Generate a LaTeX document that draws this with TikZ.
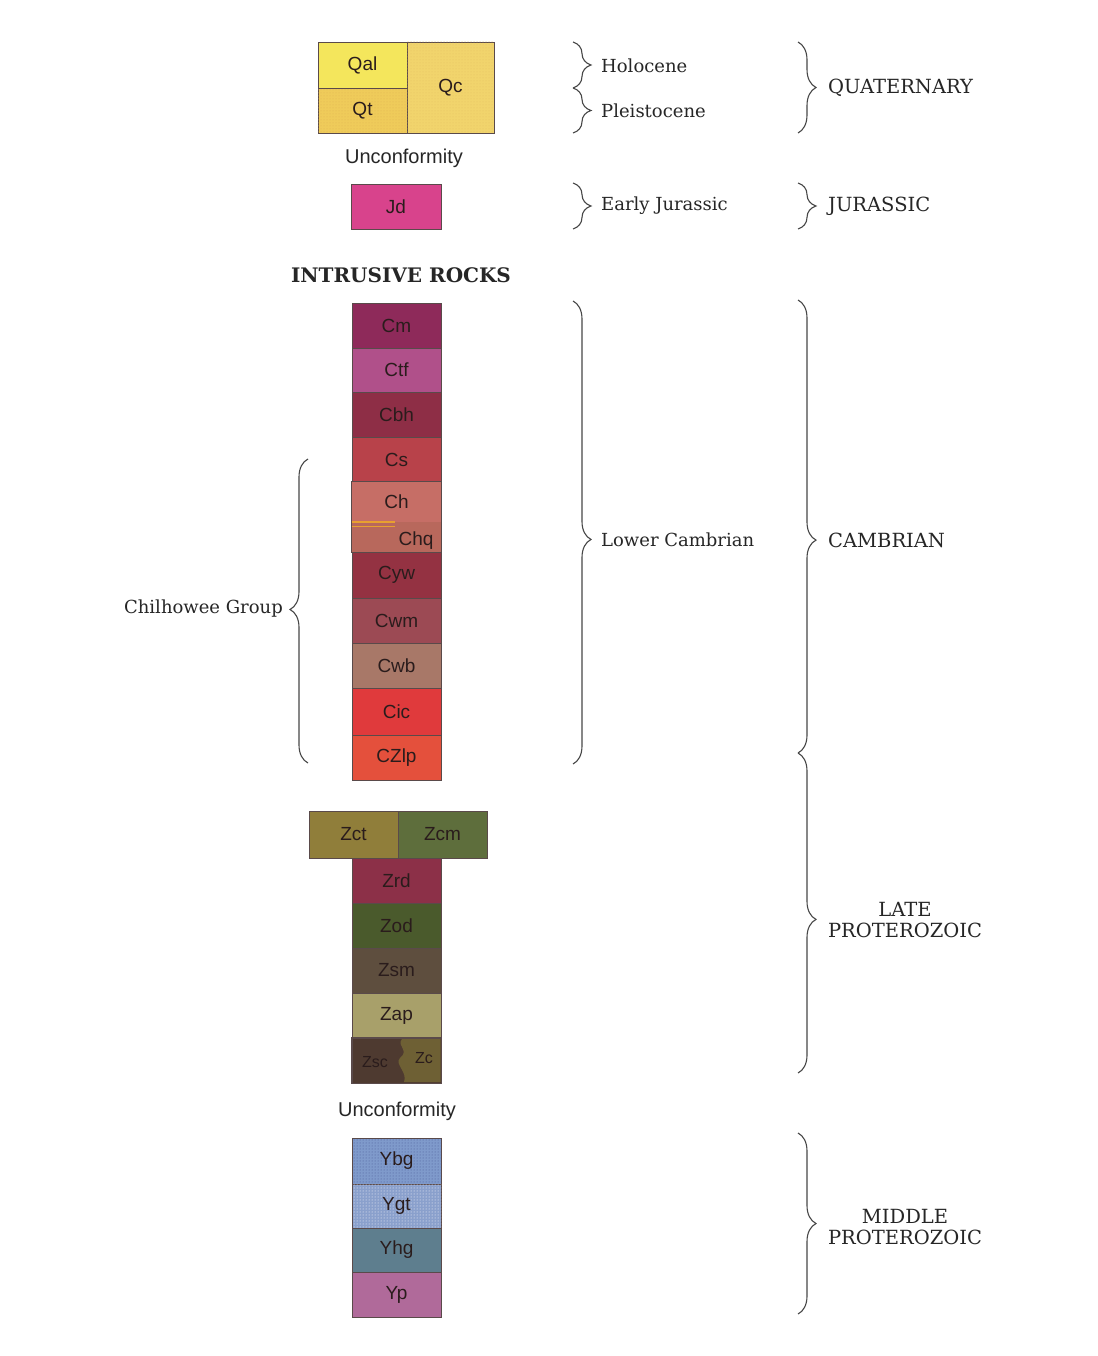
\documentclass[tikz,border=0pt]{standalone}
\usepackage{fontspec}
\setmainfont{DejaVu Serif}
\newfontfamily\sansf{Liberation Sans}
\usetikzlibrary{decorations.pathreplacing,patterns}
\definecolor{txt}{HTML}{262626}
\definecolor{ulab}{HTML}{2A1C1C}
\definecolor{bord}{HTML}{5A4A4A}
\definecolor{cQal}{HTML}{F4E65C}
\definecolor{cQt}{HTML}{EFCB5A}
\definecolor{cQc}{HTML}{F1D46C}
\definecolor{cJd}{HTML}{D8438C}
\definecolor{cCm}{HTML}{8E2A5A}
\definecolor{cCtf}{HTML}{B0508A}
\definecolor{cCbh}{HTML}{8E2E46}
\definecolor{cCs}{HTML}{B8424A}
\definecolor{cCh}{HTML}{C66E66}
\definecolor{cChq}{HTML}{B8685C}
\definecolor{cCyw}{HTML}{943242}
\definecolor{cCwm}{HTML}{9C4A54}
\definecolor{cCwb}{HTML}{A87868}
\definecolor{cCic}{HTML}{E03A3C}
\definecolor{cCZlp}{HTML}{E4503C}
\definecolor{cZct}{HTML}{907E3A}
\definecolor{cZcm}{HTML}{5E6E3C}
\definecolor{cZrd}{HTML}{8C3048}
\definecolor{cZod}{HTML}{4A5A2C}
\definecolor{cZsm}{HTML}{5E4E3E}
\definecolor{cZap}{HTML}{A8A06A}
\definecolor{cZsc}{HTML}{4E3A30}
\definecolor{cZc}{HTML}{6E6034}
\definecolor{cYbg}{HTML}{7F9ACB}
\definecolor{cYgt}{HTML}{8AA0CC}
\definecolor{cYhg}{HTML}{5E7E8E}
\definecolor{cYp}{HTML}{B06A9A}
\definecolor{cOr}{HTML}{E8A030}
\tikzset{
  unit/.style={draw=bord, line width=0.7pt, inner sep=0pt, minimum width=89pt,
    font=\fontsize{19}{22}\sansf, text=ulab},
  brc/.style={decorate, decoration={brace, amplitude=18pt, #1}, draw=txt!85, line width=1.1pt},
  brc/.default={aspect=0.5},
  lab/.style={font=\fontsize{18}{22}\selectfont, text=txt, inner sep=0pt},
  caplab/.style={font=\fontsize{19.5}{23}\selectfont, text=txt, inner sep=0pt, align=center},
  snote/.style={font=\fontsize{20}{24}\sansf, text=txt, inner sep=0pt}
}
\begin{document}
\begin{tikzpicture}[x=1pt,y=-1pt]
\useasboundingbox[fill=white] (0,0) rectangle (1097,1356);
% Quaternary
\node[unit, fill=cQal, minimum height=46pt] (Qal) at (362.5,65) {Qal};
\node[unit, fill=cQt, minimum height=45pt, postaction={pattern=dots, pattern color=cQt!70!brown}] (Qt) at (362.5,110.5) {};
\node[text=ulab, font=\fontsize{19}{22}\sansf] (Qtl) at (Qt) {Qt};
\node[unit, fill=cQc, minimum width=87pt, minimum height=91pt, postaction={pattern=dots, pattern color=cQc!75!brown}] (Qc) at (450.5,87.5) {};
\node[text=ulab, font=\fontsize{19}{22}\sansf] (Qcl) at (Qc) {Qc};
\node[snote] (unc1) at (404,158) {Unconformity};
\node[unit, fill=cJd, minimum width=90pt, minimum height=45pt] (Jd) at (396,206.5) {Jd};
\node[font=\fontsize{20}{24}\bfseries, text=txt, inner sep=0pt] (intr) at (401,275) {INTRUSIVE ROCKS};
% Cambrian column
\node[unit, fill=cCm, minimum height=45pt] (Cm) at (396.5,325.5) {Cm};
\node[unit, fill=cCtf, minimum height=44pt] (Ctf) at (396.5,370) {Ctf};
\node[unit, fill=cCbh, minimum height=45pt] (Cbh) at (396.5,414.5) {Cbh};
\node[unit, fill=cCs, minimum height=45pt] (Cs) at (396.5,459.5) {Cs};
\node[unit, fill=cCh, minimum height=40pt, draw=none] (Ch) at (396.5,502) {Ch};
\node[unit, fill=cChq, minimum height=30pt, draw=none] (Chq) at (396.5,537) {};
\node[text=ulab, font=\fontsize{19}{22}\sansf, inner sep=0pt] (Chql) at (416,541) {Chq};
\draw[bord, line width=0.7pt] (Ch.north west) rectangle (Chq.south east);
\draw[cOr, line width=1.5pt] (Chq.north west) ++(0,0.5) -- ++(43,0);
\draw[cOr, line width=1.5pt] (Chq.north west) ++(0,5) -- ++(43,0);
\node[unit, fill=cCyw, minimum height=46pt] (Cyw) at (396.5,575) {Cyw};
\node[unit, fill=cCwm, minimum height=45pt] (Cwm) at (396.5,620.5) {Cwm};
\node[unit, fill=cCwb, minimum height=45pt] (Cwb) at (396.5,665.5) {Cwb};
\node[unit, fill=cCic, minimum height=47pt] (Cic) at (396.5,711.5) {Cic};
\node[unit, fill=cCZlp, minimum height=45pt] (CZlp) at (396.5,757.5) {CZlp};
% Late Proterozoic
\node[unit, fill=cZct, minimum height=47pt] (Zct) at (353.5,834.5) {Zct};
\node[unit, fill=cZcm, minimum height=47pt] (Zcm) at (442.5,834.5) {Zcm};
\node[unit, fill=cZrd, minimum height=45pt] (Zrd) at (396.5,880.5) {Zrd};
\node[unit, fill=cZod, minimum height=45pt] (Zod) at (396.5,925.5) {Zod};
\node[unit, fill=cZsm, minimum height=45pt] (Zsm) at (396.5,970.5) {Zsm};
\node[unit, fill=cZap, minimum height=45pt] (Zap) at (396.5,1015.5) {Zap};
\node[unit, fill=cZsc, minimum height=45pt] (Zsc) at (396.5,1060.5) {};
\fill[cZc] (402,1039) .. controls (396,1046) and (410,1050) .. (400,1058)
  .. controls (394,1064) and (408,1072) .. (404,1082) -- (440.6,1082) -- (440.6,1039) -- cycle;
\draw[bord, line width=0.7pt] (Zsc.north west) rectangle (Zsc.south east);
\node[text=ulab, font=\fontsize{16}{19}\sansf, inner sep=0pt] (Zscl) at (375,1062) {Zsc};
\node[text=ulab, font=\fontsize{16}{19}\sansf, inner sep=0pt] (Zcl) at (424,1058) {Zc};
\node[snote] (unc2) at (397,1111) {Unconformity};
% Middle Proterozoic
\node[unit, fill=cYbg, minimum height=46pt, postaction={pattern=dots, pattern color=cYbg!80!blue!70!black}] (Ybg) at (396.5,1161) {};
\node[text=ulab, font=\fontsize{19}{22}\sansf] (Ybgl) at (Ybg) {Ybg};
\node[unit, fill=cYgt, minimum height=44pt, postaction={pattern=dots, pattern color=white}] (Ygt) at (396.5,1206) {};
\node[text=ulab, font=\fontsize{19}{22}\sansf] (Ygtl) at (Ygt) {Ygt};
\node[unit, fill=cYhg, minimum height=44pt] (Yhg) at (396.5,1250) {Yhg};
\node[unit, fill=cYp, minimum height=45pt] (Yp) at (396.5,1294.5) {Yp};
% braces middle column
\coordinate (hA) at (573,42); \coordinate (hB) at (573,88); \coordinate (hC) at (573,133);
\draw[brc] (hA) -- (hB);
\draw[brc] (hB) -- (hC);
\node[lab, anchor=west] (hol) at (601,66) {Holocene};
\node[lab, anchor=west] (ple) at (601,111) {Pleistocene};
\coordinate (jA) at (573,183); \coordinate (jB) at (573,229);
\draw[brc] (jA) -- (jB);
\node[lab, anchor=west] (ej) at (601,206) {Early Jurassic};
\coordinate (lcA) at (573,301); \coordinate (lcB) at (573,764);
\draw[brc={aspect=0.515}] (lcA) -- (lcB);
\node[lab, anchor=west] (lc) at (601,540) {Lower Cambrian};
% Chilhowee
\coordinate (chA) at (308,763); \coordinate (chB) at (308,459);
\draw[brc={aspect=0.505}] (chA) -- (chB);
\node[lab, anchor=east] (chil) at (283,609) {Chilhowee Group};
% right braces
\coordinate (qA) at (798,42); \coordinate (qB) at (798,133);
\draw[brc] (qA) -- (qB);
\node[caplab, anchor=west] (quat) at (828,88) {QUATERNARY};
\coordinate (juA) at (798,183); \coordinate (juB) at (798,229);
\draw[brc] (juA) -- (juB);
\node[caplab, anchor=west] (jur) at (828,206) {JURASSIC};
\coordinate (caA) at (798,300); \coordinate (caB) at (798,753); \coordinate (caC) at (798,1073);
\draw[brc={aspect=0.53}] (caA) -- (caB);
\node[caplab, anchor=west] (camb) at (828,540) {CAMBRIAN};
\draw[brc={aspect=0.52}] (caB) -- (caC);
\node[caplab] (lp) at (905,920) {LATE\\[-2pt]PROTEROZOIC};
\coordinate (mpA) at (798,1133); \coordinate (mpB) at (798,1314);
\draw[brc] (mpA) -- (mpB);
\node[caplab] (mp) at (905,1227) {MIDDLE\\[-2pt]PROTEROZOIC};
\end{tikzpicture}
\end{document}
